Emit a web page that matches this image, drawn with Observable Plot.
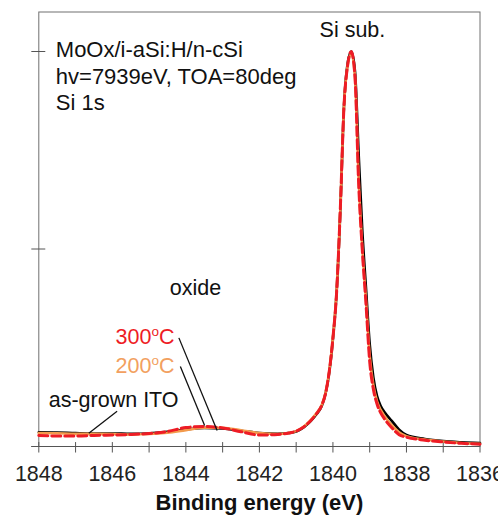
<!DOCTYPE html>
<html><head><meta charset="utf-8">
<script src="https://cdn.jsdelivr.net/npm/d3@7"></script>
<script src="https://cdn.jsdelivr.net/npm/@observablehq/plot@0.6"></script>
<style>body{margin:0;background:#fff;} svg{display:block;}</style>
</head><body><div id="chart"></div>
<script>
// Binding energy grid (eV)
const energy = [1848, 1847.5, 1847, 1846.5, 1846, 1845.5, 1845, 1844.5, 1844, 1843.5, 1843, 1842.5, 1842, 1841.5, 1841.2, 1841, 1840.8, 1840.6, 1840.45, 1840.3, 1840.2, 1840.1, 1840, 1839.9, 1839.8, 1839.7, 1839.6, 1839.5, 1839.4, 1839.3, 1839.2, 1839.1, 1839, 1838.9, 1838.8, 1838.7, 1838.6, 1838.4, 1838.2, 1838, 1837.5, 1837, 1836.5, 1836];
// Normalised intensity
const asGrown = [0.072, 0.071, 0.068, 0.066, 0.066, 0.064, 0.066, 0.074, 0.086, 0.094, 0.091, 0.080, 0.068, 0.064, 0.068, 0.076, 0.097, 0.130, 0.163, 0.208, 0.268, 0.375, 0.545, 0.780, 1.190, 1.720, 1.940, 2.000, 1.900, 1.480, 1.090, 0.800, 0.520, 0.350, 0.255, 0.205, 0.175, 0.130, 0.085, 0.058, 0.038, 0.027, 0.021, 0.017];
const anneal200 = [0.068, 0.067, 0.064, 0.064, 0.063, 0.061, 0.063, 0.070, 0.083, 0.095, 0.095, 0.082, 0.068, 0.063, 0.068, 0.078, 0.100, 0.135, 0.168, 0.212, 0.272, 0.382, 0.552, 0.790, 1.200, 1.720, 1.930, 1.990, 1.870, 1.350, 1.000, 0.740, 0.460, 0.310, 0.228, 0.185, 0.155, 0.108, 0.072, 0.052, 0.035, 0.025, 0.018, 0.014];
const anneal300 = [0.056, 0.053, 0.053, 0.056, 0.058, 0.061, 0.066, 0.076, 0.096, 0.101, 0.094, 0.075, 0.058, 0.061, 0.068, 0.078, 0.098, 0.132, 0.165, 0.210, 0.270, 0.380, 0.550, 0.780, 1.200, 1.720, 1.930, 2.000, 1.870, 1.330, 0.990, 0.720, 0.430, 0.290, 0.215, 0.170, 0.140, 0.095, 0.060, 0.047, 0.032, 0.023, 0.016, 0.012];
const xMajor = [1848, 1846, 1844, 1842, 1840, 1838, 1836];
const xMinor = [1847, 1845, 1843, 1841, 1839, 1837];
const yTicks = [0, 1, 2];
const infoLines = ["MoOx/i-aSi:H/n-cSi", "hv=7939eV, TOA=80deg", "Si 1s"];

const rows = (vals, s) => energy.map((e, i) => ({energy: e, value: vals[i], series: s}));
const dAs = rows(asGrown, "as-grown ITO");
const d200 = rows(anneal200, "200oC");
const d300 = rows(anneal300, "300oC");

const FONT = "'Liberation Sans', Arial, sans-serif";
const AX = "#555";
const RED = "#EE1C25", ORANGE = "#F39A4C", ORANGE_T = "#F2A060";

const chart = Plot.plot({
  width: 498, height: 516,
  marginLeft: 38.3, marginRight: 18.5, marginTop: 11.5, marginBottom: 70,
  style: {fontFamily: FONT, fontSize: "21.5px", background: "#fff", color: "#000", overflow: "hidden"},
  x: {domain: [1848, 1836], axis: null},
  y: {domain: [0, 2.2], axis: null},
  marks: [
    Plot.frame({stroke: "#707070"}),
    Plot.ruleY(yTicks, {x1: 1848.19, x2: 1847.81, stroke: AX}),
    Plot.ruleY([0], {x1: 1848.19, x2: 1836, stroke: AX}),
    Plot.ruleX(xMajor.concat(xMinor), {y1: -0.033, y2: 0.02, stroke: AX}),
    Plot.text(xMajor, {x: d => d, y: 0, dy: 19, text: d => String(d), lineAnchor: "top", fill: "#222"}),
    Plot.text(["Binding energy (eV)"], {frameAnchor: "bottom", dy: 63, lineAnchor: "bottom", fontWeight: "bold", fontSize: 22, fill: "#111"}),
    Plot.line(dAs, {x: "energy", y: "value", stroke: "#000", strokeWidth: 2.6, curve: "monotone-x"}),
    Plot.line(d200, {x: "energy", y: "value", stroke: ORANGE, strokeWidth: 2.6, curve: "monotone-x"}),
    Plot.line(d300, {x: "energy", y: "value", stroke: RED, strokeWidth: 3, strokeDasharray: "9,4", curve: "monotone-x"}),
    Plot.text([infoLines.join("\n")], {frameAnchor: "top-left", dx: 17, dy: 26.5, lineAnchor: "top", textAnchor: "start", fontSize: 22, lineHeight: 1.2, fill: "#111"}),
    Plot.text(["Si sub."], {x: 1839.47, y: 2.071, lineAnchor: "bottom", fill: "#111"}),
    Plot.text(["oxide"], {x: 1843.74, y: 0.765, lineAnchor: "bottom", fill: "#111"}),
    Plot.text(["300oC"], {x: 1844.31, y: 0.52, textAnchor: "end", lineAnchor: "bottom", fill: RED, className: "sup"}),
    Plot.text(["200oC"], {x: 1844.31, y: 0.37, textAnchor: "end", lineAnchor: "bottom", fill: ORANGE_T, className: "sup"}),
    Plot.text(["as-grown ITO"], {x: 1847.73, y: 0.199, textAnchor: "start", lineAnchor: "bottom", fill: "#111"}),
    Plot.link([0], {x1: () => 1844.19, y1: () => 0.55, x2: () => 1843.15, y2: () => 0.081, stroke: "#111", strokeWidth: 1.3}),
    Plot.link([0], {x1: () => 1844.15, y1: () => 0.405, x2: () => 1843.49, y2: () => 0.106, stroke: "#111", strokeWidth: 1.3}),
    Plot.link([0], {x1: () => 1845.87, y1: () => 0.179, x2: () => 1846.64, y2: () => 0.067, stroke: "#111", strokeWidth: 1.3})
  ]
});

// superscript the "o" in temperature labels
d3.select(chart).selectAll("g.sup text").each(function () {
  const t = this.textContent;
  const m = t.match(/^(\d+)o(C)$/);
  if (!m) return;
  const sel = d3.select(this);
  sel.text(null);
  sel.append("tspan").text(m[1]);
  sel.append("tspan").attr("font-size", "13.5px").attr("dy", "-8").text("o");
  sel.append("tspan").attr("dy", "8").text(m[2]);
});

document.getElementById("chart").appendChild(chart);
</script>
</body></html>
